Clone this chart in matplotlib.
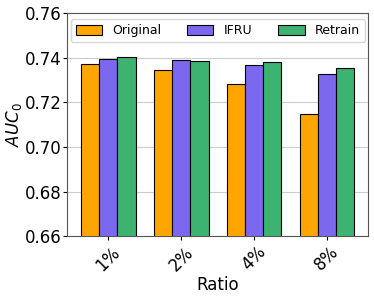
import numpy as np
import matplotlib.pyplot as plt

# values
ratios = ['1%', '2%', '4%', '8%']
original = [0.7371, 0.7346, 0.7280, 0.7146]
ifru = [0.7395, 0.7388, 0.7365, 0.7328]
retrain = [0.7401, 0.7385, 0.7380, 0.7352]

fig, ax = plt.subplots(figsize=(3.74, 2.97), dpi=100)
x = np.arange(len(ratios))
w = 0.25
ax.bar(x - w, original, w, color='#FFA500', edgecolor='black', linewidth=0.8, label='Original', zorder=3)
ax.bar(x, ifru, w, color='#7B68EE', edgecolor='black', linewidth=0.8, label='IFRU', zorder=3)
ax.bar(x + w, retrain, w, color='#3CB371', edgecolor='black', linewidth=0.8, label='Retrain', zorder=3)

ax.set_ylim(0.66, 0.76)
ax.set_yticks([0.66, 0.68, 0.70, 0.72, 0.74, 0.76])
ax.set_xticks(x)
ax.set_xticklabels(ratios, rotation=45, fontsize=12)
ax.tick_params(axis='y', labelsize=12, length=3, pad=1)
ax.tick_params(axis='x', length=3, pad=2)
ax.set_xlabel('Ratio', fontsize=12, labelpad=1)
ax.set_ylabel('$AUC_0$', fontsize=12, labelpad=1)
ax.grid(axis='y', color='#cccccc', linewidth=0.8, zorder=0)
for s in ax.spines.values():
    s.set_color('#555555')
ax.legend(loc='upper center', ncol=3, fontsize=9, handlelength=2.1, handleheight=0.8,
          handletextpad=0.8, columnspacing=2.1)

plt.subplots_adjust(left=0.18, right=0.984, top=0.956, bottom=0.205)
plt.savefig('out.png')
